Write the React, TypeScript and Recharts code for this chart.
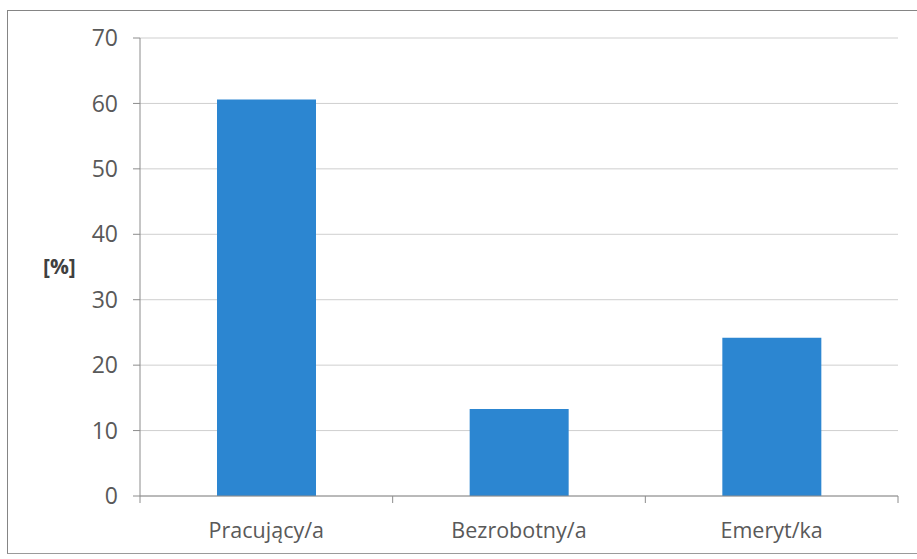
import { Bar, BarChart, CartesianGrid, XAxis, YAxis } from "recharts";

const categories = ["Pracujący/a", "Bezrobotny/a", "Emeryt/ka"];
const percentValues = [60.6, 13.3, 24.2];
const yTicks = [0, 10, 20, 30, 40, 50, 60, 70];
const edgeTicks = [0, 1, 2, 3];

const chartData = categories.map((name, i) => ({ name, slot: i + 0.5, value: percentValues[i] }));

const FONT = "'Open Sans', sans-serif";
const TEXT = "#595959";

export default function App() {
  return (
    <div style={{ position: "absolute", left: 0, top: 0, width: 917, height: 559, background: "#fff", overflow: "hidden" }}>
      <div
        style={{
          position: "absolute",
          left: 7,
          top: 10,
          width: 930,
          height: 544,
          borderTop: "1.5px solid #858585",
          borderLeft: "1.5px solid #858585",
          borderBottom: "1.5px solid #9a9a9a",
          boxSizing: "border-box",
        }}
      />
      <div style={{ position: "absolute", left: 0, top: 0 }}>
        <BarChart
          width={917}
          height={559}
          data={chartData}
          margin={{ top: 38, right: 19, bottom: 22, left: 0 }}
        >
          <CartesianGrid xAxisId="b_cat" vertical={false} stroke="#cfcfcf" strokeWidth={1} />
          <XAxis
            xAxisId="a_edge"
            dataKey="slot"
            type="number"
            domain={[0, 3]}
            ticks={edgeTicks}
            height={8}
            tickFormatter={() => ""}
            tickSize={7}
            axisLine={{ stroke: "#8c8c8c" }}
            tickLine={{ stroke: "#8c8c8c" }}
            allowDataOverflow
          />
          <XAxis
            xAxisId="b_cat"
            dataKey="name"
            height={33}
            axisLine={false}
            tickLine={false}
            tickMargin={13}
            tick={{ fill: TEXT, fontSize: 21.5, fontFamily: FONT }}
          />
          <YAxis
            width={140}
            domain={[0, 70]}
            ticks={yTicks}
            interval={0}
            tickSize={7}
            tickMargin={15}
            axisLine={{ stroke: "#8c8c8c" }}
            tickLine={{ stroke: "#8c8c8c" }}
            tick={{ fill: TEXT, fontSize: 23, fontFamily: FONT }}
            label={{
              value: "[%]",
              position: "insideLeft",
              offset: 43,
              fill: "#404040",
              fontSize: 21,
              fontWeight: 700,
              fontFamily: FONT,
            }}
          />
          <Bar xAxisId="b_cat" dataKey="value" fill="#2C86D1" barSize={99} isAnimationActive={false} />
        </BarChart>
      </div>
    </div>
  );
}
